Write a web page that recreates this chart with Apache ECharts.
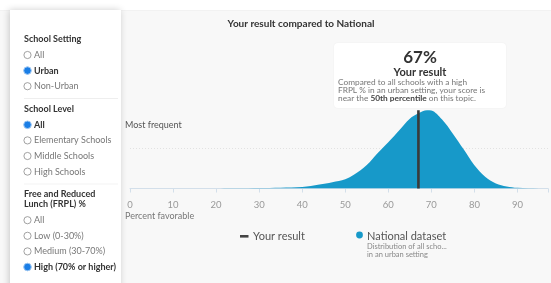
<!DOCTYPE html>
<html>
<head>
<meta charset="utf-8">
<script src="https://cdn.jsdelivr.net/npm/echarts@6/dist/echarts.min.js"></script>
<style>
  html, body { margin: 0; padding: 0; background: #fff; }
  #chart { width: 551px; height: 283px; }
</style>
</head>
<body>
<div id="chart"></div>
<script>
// 全国分布 (percent favorable, relative frequency 0-100)
const scores = [20, 25, 30, 35, 40, 44, 47, 50, 52, 55, 57.5, 60, 62.5, 65, 67, 69, 70, 72.5, 75, 77.5, 80, 82.5, 85, 87.5, 90, 95, 97];
const frequency = [0, 0.2, 0.6, 1.1, 2.0, 5.1, 8, 11.8, 17.5, 30, 45, 59, 74, 89, 96, 100, 99.6, 88, 70, 50, 29.6, 15, 6.4, 2.5, 0.8, 0.1, 0];
const yourResult = 67;
const xTicks = [0, 10, 20, 30, 40, 50, 60, 70, 80, 90];

// 左侧筛选项
const filterGroups = [
    { title: ['School Setting'], options: ['All', 'Urban', 'Non-Urban'], selected: 1 },
    { title: ['School Level'], options: ['All', 'Elementary Schools', 'Middle Schools', 'High Schools'], selected: 0 },
    { title: ['Free and Reduced', 'Lunch (FRPL) %'], options: ['All', 'Low (0-30%)', 'Medium (30-70%)', 'High (70% or higher)'], selected: 3 }
];

const FONT = 'Lato';
const BLUE = '#1799c9';

const chart = echarts.init(document.getElementById('chart'));

// 侧边栏图形
function buildSidebar() {
    const els = [
        { type: 'rect', shape: { x: 0, y: 0, width: 551, height: 10 }, style: { fill: '#fff' }, z: 0 },
        { type: 'rect', shape: { x: 0, y: 10, width: 551, height: 0.6 }, style: { fill: '#ececec' }, z: 0 },
        {
            type: 'rect', shape: { x: 10, y: 10, width: 111, height: 290 },
            style: { fill: '#fff', shadowBlur: 7, shadowColor: 'rgba(0,0,0,0.2)', shadowOffsetX: -1 }, z: 1
        }
    ];
    let y = 39;
    filterGroups.forEach((g, gi) => {
        g.title.forEach((t) => {
            els.push({ type: 'text', x: 24, y: y, style: { text: t, font: 'bold 9px ' + FONT, fill: '#333', textVerticalAlign: 'middle' }, z: 2 });
            y += 10;
        });
        y += 6;
        g.options.forEach((o, oi) => {
            const sel = oi === g.selected;
            els.push({
                type: 'circle', shape: { cx: 27.5, cy: y, r: sel ? 3.8 : 3.6 },
                style: sel ? { fill: '#1a7ee6', stroke: '#9cc6f2', lineWidth: 1 } : { fill: '#fff', stroke: '#8a8a8a', lineWidth: 0.8 }, z: 2
            });
            els.push({
                type: 'text', x: 34, y: y,
                style: { text: o, font: (sel ? 'bold ' : '') + '9px ' + FONT, fill: sel ? '#333' : '#777', textVerticalAlign: 'middle' }, z: 2
            });
            y += 15.6;
        });
        if (gi < filterGroups.length - 1) {
            els.push({ type: 'rect', shape: { x: 24, y: y - 3.5, width: 94, height: 0.6 }, style: { fill: '#e8e8e8' }, z: 2 });
            y += 7;
        }
    });
    return els;
}

// 结果提示框
function buildCard() {
    return [
        {
            type: 'rect', shape: { x: 334, y: 43, width: 172, height: 65, r: 4 },
            style: { fill: '#fff', shadowBlur: 2, shadowColor: 'rgba(0,0,0,0.05)' }, z: 10
        },
        { type: 'text', x: 420, y: 58, style: { text: yourResult + '%', font: 'bold 17px ' + FONT, fill: '#333', textAlign: 'center', textVerticalAlign: 'middle' }, z: 11 },
        { type: 'text', x: 420, y: 72.5, style: { text: 'Your result', font: 'bold 11px ' + FONT, fill: '#333', textAlign: 'center', textVerticalAlign: 'middle' }, z: 11 },
        {
            type: 'text', x: 338, y: 78.5, z: 11,
            style: {
                text: 'Compared to all schools with a high\nFRPL % in an urban setting, your score is\nnear the {b|50th percentile} on this topic.',
                font: '8.3px ' + FONT, fill: '#777', lineHeight: 8,
                rich: { b: { font: 'bold 8.3px ' + FONT, fill: '#444', lineHeight: 8 } }
            }
        }
    ];
}

function buildTexts() {
    return [
        { type: 'text', x: 301, y: 24, style: { text: 'Your result compared to National', font: 'bold 10px ' + FONT, fill: '#333', textAlign: 'center', textVerticalAlign: 'middle' }, z: 5 },
        { type: 'text', x: 125, y: 125.5, style: { text: 'Most frequent', font: '9px ' + FONT, fill: '#555', textVerticalAlign: 'middle' }, z: 5 },
        { type: 'text', x: 125, y: 216, style: { text: 'Percent favorable', font: '9px ' + FONT, fill: '#777', textVerticalAlign: 'middle' }, z: 5 },
        // 图例
        { type: 'rect', shape: { x: 240, y: 235, width: 8.5, height: 2.6 }, style: { fill: '#444' }, z: 5 },
        { type: 'text', x: 253, y: 236.5, style: { text: 'Your result', font: '11px ' + FONT, fill: '#555', textVerticalAlign: 'middle' }, z: 5 },
        { type: 'circle', shape: { cx: 359.5, cy: 235, r: 3.4 }, style: { fill: BLUE }, z: 5 },
        { type: 'text', x: 367, y: 236.5, style: { text: 'National dataset', font: '11px ' + FONT, fill: '#555', textVerticalAlign: 'middle' }, z: 5 },
        { type: 'text', x: 367, y: 246.5, style: { text: 'Distribution of all scho...', font: '7.5px ' + FONT, fill: '#888', textVerticalAlign: 'middle' }, z: 5 },
        { type: 'text', x: 367, y: 255, style: { text: 'in an urban setting', font: '7.5px ' + FONT, fill: '#888', textVerticalAlign: 'middle' }, z: 5 }
    ];
}

const option = {
    backgroundColor: '#f8f8f8',
    animation: false,
    textStyle: { fontFamily: FONT },
    grid: { left: 130, right: 0, top: 107, bottom: 94.5 },
    xAxis: {
        type: 'value',
        min: 0,
        max: 97.1,
        interval: 10,
        axisLine: { lineStyle: { color: '#d3dfea', width: 1 } },
        axisTick: { show: true, length: 4, lineStyle: { color: '#d3dfea' } },
        axisLabel: {
            color: '#999', fontSize: 9.5, margin: 11, fontFamily: FONT,
            formatter: (v) => (xTicks.indexOf(v) >= 0 ? String(v) : '')
        },
        splitLine: { show: false }
    },
    yAxis: {
        type: 'value',
        min: 0,
        max: 104,
        interval: 52,
        axisLine: { show: false },
        axisTick: { show: false },
        axisLabel: { show: false },
        splitLine: { lineStyle: { color: ['transparent', '#dcdcdc', 'transparent'], type: [1, 2], width: 0.8 } }
    },
    series: [
        {
            name: 'National dataset',
            type: 'line',
            smooth: 0.35,
            showSymbol: false,
            data: scores.map((s, i) => [s, frequency[i]]),
            lineStyle: { width: 0 },
            areaStyle: { color: BLUE, opacity: 1 },
            z: 2
        },
        {
            name: 'Your result',
            type: 'line',
            showSymbol: false,
            data: [[yourResult, 0], [yourResult, 100]],
            lineStyle: { color: '#3a3a3a', width: 2.6 },
            z: 3
        }
    ],
    graphic: buildSidebar().concat(buildCard(), buildTexts())
};

chart.setOption(option);
</script>
</body>
</html>
